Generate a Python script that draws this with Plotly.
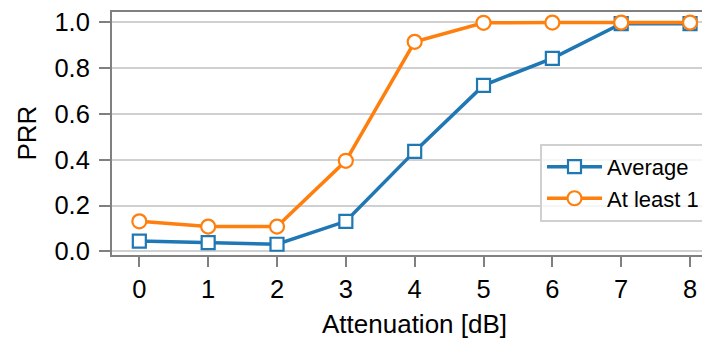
import plotly.graph_objects as go

attenuation = [0, 1, 2, 3, 4, 5, 6, 7, 8]
prr_average = [0.045, 0.038, 0.031, 0.131, 0.436, 0.724, 0.842, 0.993, 0.993]
prr_at_least_1 = [0.131, 0.108, 0.108, 0.395, 0.914, 0.997, 0.998, 0.998, 0.998]
y_ticks = [0.0, 0.2, 0.4, 0.6, 0.8, 1.0]
y_tick_labels = ["0.0", "0.2", "0.4", "0.6", "0.8", "1.0"]

FONT = "Liberation Sans, Arial, sans-serif"
BLUE = "#1f77b4"
ORANGE = "#ff7f0e"
SPINE = "#808080"
TICK_SIZE = 25.5
LABEL_SIZE = 26
LEGEND_SIZE = 22

# page body has an 8px default margin; figure is sized to fit the window
W, H = 702, 334
L, R, T, B = 104, 0, 0, 87
PW, PH = W - L - R, H - T - B

fig = go.Figure()
fig.add_trace(go.Scatter(
    x=attenuation, y=prr_average, name="Average", mode="lines+markers",
    line=dict(color=BLUE, width=3.5),
    marker=dict(symbol="square", size=13, color="white", line=dict(color=BLUE, width=2.2)),
))
fig.add_trace(go.Scatter(
    x=attenuation, y=prr_at_least_1, name="At least 1", mode="lines+markers",
    line=dict(color=ORANGE, width=3.5),
    marker=dict(symbol="circle", size=14, color="white", line=dict(color=ORANGE, width=2.2)),
))

fig.update_layout(
    width=W, height=H,
    margin=dict(l=L, r=R, t=T, b=B, pad=0),
    paper_bgcolor="white", plot_bgcolor="white",
    font=dict(family=FONT, size=TICK_SIZE, color="#000000"),
    showlegend=True,
    legend=dict(
        x=(698 - L) / PW, xanchor="right", y=(247 - 134) / PH, yanchor="top",
        bordercolor="#d0d0d0", borderwidth=2, bgcolor="rgba(255,255,255,0.8)",
        font=dict(family=FONT, size=LEGEND_SIZE, color="#000000"),
        tracegroupgap=0, itemwidth=55,
    ),
    xaxis=dict(
        range=[-0.397, 8.29], tickmode="array", tickvals=attenuation,
        ticktext=[str(v) for v in attenuation],
        showgrid=False, zeroline=False,
        showline=True, linecolor=SPINE, linewidth=2, mirror=True,
        ticks="outside", ticklen=10, tickwidth=2, tickcolor=SPINE,
        tickfont=dict(family=FONT, size=TICK_SIZE, color="#000000"),
        ticklabeloverflow="allow",
    ),
    yaxis=dict(
        range=[-0.0159, 1.044], tickmode="array", tickvals=y_ticks, ticktext=y_tick_labels,
        showgrid=True, gridcolor="#d0d0d0", gridwidth=2, zeroline=False,
        showline=True, linecolor=SPINE, linewidth=2,
        ticks="outside", ticklen=11, tickwidth=2, tickcolor=SPINE,
        tickfont=dict(family=FONT, size=TICK_SIZE, color="#000000"),
        ticklabeloverflow="allow", ticklabelstandoff=4,
    ),
)

fig.add_annotation(
    text="Attenuation [dB]", xref="paper", yref="paper",
    x=(406 - L) / PW, y=-70 / PH, xanchor="center", yanchor="middle",
    showarrow=False, font=dict(family=FONT, size=LABEL_SIZE, color="#000000"),
)
fig.add_annotation(
    text="PRR", xref="paper", yref="paper", textangle=-90,
    x=(18 - L) / PW, y=0.5, xanchor="center", yanchor="middle",
    showarrow=False, font=dict(family=FONT, size=LABEL_SIZE, color="#000000"),
)

fig.write_html("out.html")
